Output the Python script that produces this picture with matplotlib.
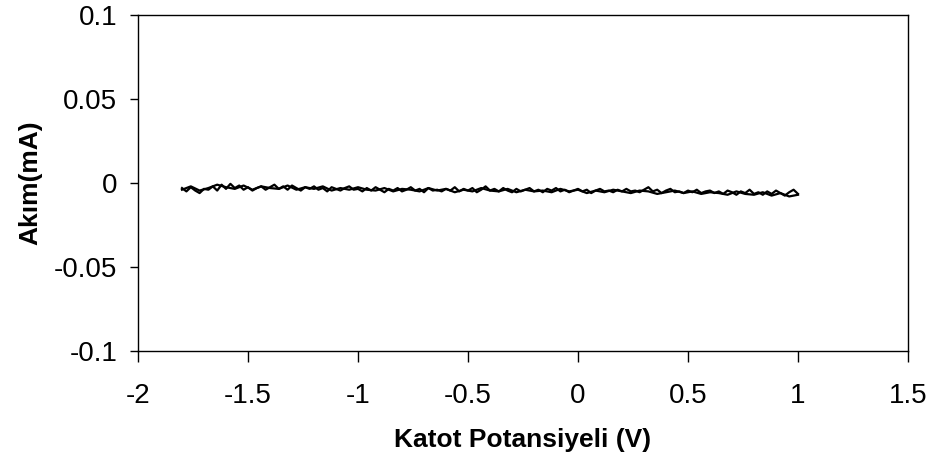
import numpy as np
import matplotlib
matplotlib.use("Agg")
import matplotlib.pyplot as plt

plt.rcParams['font.family'] = ['Liberation Sans', 'DejaVu Sans']

# Forward sweep: potential (V) from -1.8 to 1.0, current (mA)
forward_potential = np.linspace(-1.8, 1.0, 141)
forward_current = [
    -0.0030, -0.0050, -0.0025, -0.0045, -0.0060, -0.0035, -0.0040, -0.0020, -0.0045, -0.0010,
    -0.0035, -0.0005, -0.0030, -0.0015, -0.0040, -0.0025, -0.0045, -0.0030, -0.0020, -0.0040,
    -0.0025,
    -0.0010, -0.0035, -0.0020, -0.0040, -0.0015, -0.0030, -0.0045, -0.0025, -0.0035, -0.0020,
    -0.0040, -0.0030, -0.0050, -0.0025, -0.0035, -0.0045, -0.0030, -0.0020, -0.0040, -0.0035,
    -0.0050, -0.0030, -0.0045, -0.0025, -0.0040, -0.0055, -0.0035, -0.0045, -0.0030, -0.0050,
    -0.0040, -0.0025, -0.0045, -0.0035, -0.0055, -0.0030, -0.0045, -0.0040, -0.0050, -0.0035,
    -0.0045, -0.0025, -0.0050, -0.0035, -0.0045, -0.0030, -0.0055, -0.0040, -0.0020, -0.0045,
    -0.0035, -0.0050, -0.0030, -0.0045, -0.0055, -0.0035, -0.0050, -0.0040, -0.0030, -0.0050,
    -0.0040, -0.0055, -0.0035, -0.0045, -0.0030, -0.0050, -0.0040, -0.0055, -0.0045, -0.0035,
    -0.0050, -0.0040, -0.0060, -0.0045, -0.0035, -0.0050, -0.0045, -0.0055, -0.0040, -0.0050,
    -0.0035, -0.0050, -0.0045, -0.0055, -0.0040, -0.0025, -0.0050, -0.0040, -0.0060, -0.0045,
    -0.0035, -0.0055, -0.0050, -0.0060, -0.0045, -0.0055, -0.0040, -0.0060, -0.0050, -0.0045,
    -0.0060, -0.0050, -0.0065, -0.0045, -0.0055, -0.0070, -0.0050, -0.0060, -0.0040, -0.0065,
    -0.0055, -0.0070, -0.0050, -0.0065, -0.0045, -0.0060, -0.0075, -0.0055, -0.0040, -0.0065,
]

# Reverse sweep: potential (V) from 1.0 back to -1.8, current (mA)
reverse_potential = np.linspace(1.0, -1.8, 71)
reverse_current = [
    -0.0070, -0.0080, -0.0060, -0.0075, -0.0055, -0.0070, -0.0065, -0.0050, -0.0070, -0.0060, -0.0055,
    -0.0065, -0.0050, -0.0060, -0.0045, -0.0055, -0.0065, -0.0050, -0.0045, -0.0060, -0.0050,
    -0.0040, -0.0055, -0.0045, -0.0060, -0.0040, -0.0050, -0.0035, -0.0055, -0.0045, -0.0050,
    -0.0040, -0.0055, -0.0035, -0.0050, -0.0045, -0.0030, -0.0050, -0.0040, -0.0055, -0.0035,
    -0.0045, -0.0030, -0.0050, -0.0040, -0.0035, -0.0050, -0.0030, -0.0045, -0.0040, -0.0025,
    -0.0040, -0.0030, -0.0045, -0.0020, -0.0035, -0.0025, -0.0040, -0.0015, -0.0035, -0.0030,
    -0.0020, -0.0040, -0.0015, -0.0035, -0.0025, -0.0010, -0.0030, -0.0045, -0.0020, -0.0040,
]

x_ticks = [-2, -1.5, -1, -0.5, 0, 0.5, 1, 1.5]
x_tick_labels = ["-2", "-1.5", "-1", "-0.5", "0", "0.5", "1", "1.5"]
y_ticks = [-0.1, -0.05, 0, 0.05, 0.1]
y_tick_labels = ["-0.1", "-0.05", "0", "0.05", "0.1"]

fig = plt.figure(figsize=(9.33, 4.66), dpi=100)
ax = fig.add_axes([138 / 933, 1 - 351 / 466, (908 - 138) / 933, (351 - 15) / 466])

ax.plot(forward_potential, forward_current, color='black', linewidth=1.6)
ax.plot(reverse_potential, reverse_current, color='black', linewidth=1.6)

ax.set_xlim(-2, 1.5)
ax.set_ylim(-0.1, 0.1)
ax.set_xticks(x_ticks)
ax.set_xticklabels(x_tick_labels)
ax.set_yticks(y_ticks)
ax.set_yticklabels(y_tick_labels)
ax.tick_params(axis='both', direction='out', width=1, labelsize=20, colors='black')
ax.tick_params(axis='x', length=8, pad=15)
ax.tick_params(axis='y', length=6, pad=9)
for s in ax.spines.values():
    s.set_linewidth(1.0)
    s.set_color('black')

ax.set_xlabel("Katot Potansiyeli (V)", fontsize=19, fontweight='bold', labelpad=14)
ax.set_ylabel("Akım(mA)", fontsize=19, fontweight='bold', labelpad=8)

fig.savefig("out.png", dpi=100)
